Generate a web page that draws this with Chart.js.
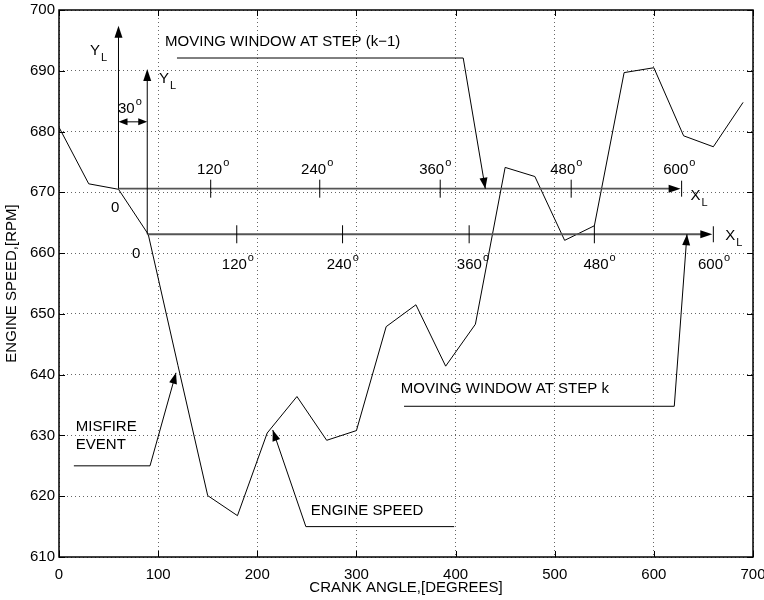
<!DOCTYPE html>
<html>
<head>
<meta charset="utf-8">
<script src="https://cdn.jsdelivr.net/npm/chart.js@4/dist/chart.umd.min.js"></script>
<style>
  html, body { margin: 0; padding: 0; background: #fff; }
  #wrap { width: 764px; height: 600px; }
</style>
</head>
<body>
<div id="wrap"><canvas id="speedChart"></canvas></div>
<script>
// crank angle (deg) and engine speed (rpm)
var crankAngle = [0, 30, 60, 90, 120, 150, 180, 210, 240, 270, 300, 330, 360, 390, 420, 450, 480, 510, 540, 570, 600, 630, 660, 690];
var engineSpeed = [680.7, 671.4, 670.5, 663.1, 641.5, 620.1, 616.8, 630.4, 636.4, 629.2, 630.8, 647.9, 651.5, 641.4, 648.3, 674.1, 672.6, 662.1, 664.5, 689.7, 690.5, 679.3, 677.5, 684.8];
var xTicks = [0, 100, 200, 300, 400, 500, 600, 700];
var yTicks = [610, 620, 630, 640, 650, 660, 670, 680, 690, 700];
var windowLabels = ['120', '240', '360', '480', '600'];

// the two moving windows, in data units
var windows = [
  { origin: [60, 670.6], yTip: 697.4, xEnd: 628, ticks: [153, 263, 384.5, 516.6],
    labelX: [139.3, 244.2, 363.3, 495.5, 609.5], labelY: 673.0,
    zero: [52.5, 666.8], yl: [31.3, 692.6], xl: [637, 668.8] },
  { origin: [89, 663.1], yTip: 690.3, xEnd: 660, ticks: [179.3, 286, 413.7, 540],
    labelX: [164.2, 270, 401.3, 529, 644.5], labelY: 657.4,
    zero: [73.7, 659.2], yl: [100.9, 688], xl: [672, 662.1] }
];

var callouts = [
  { text: ['MOVING WINDOW AT STEP (k\u22121)'], at: [107, 694.7], path: [[119, 692.1], [407.7, 692.1], [430, 670.6]] },
  { text: ['MOVING WINDOW AT STEP k'], at: [344.8, 637.7], path: [[348, 634.8], [620.6, 634.8], [633.4, 663.1]] },
  { text: ['MISFIRE', 'EVENT'], at: [17, 631.4], path: [[15, 625], [91.8, 625], [118, 640.3]] },
  { text: ['ENGINE SPEED'], at: [254, 617.6], path: [[398.6, 615], [249, 615], [215.6, 630.9]] }
];

var FONT = 'Liberation Sans, Arial, Helvetica, sans-serif';

function arrowHead(ctx, x1, y1, x2, y2, len, half) {
  var a = Math.atan2(y2 - y1, x2 - x1);
  ctx.beginPath();
  ctx.moveTo(x2, y2);
  ctx.lineTo(x2 - len * Math.cos(a) + half * Math.sin(a), y2 - len * Math.sin(a) - half * Math.cos(a));
  ctx.lineTo(x2 - len * Math.cos(a) - half * Math.sin(a), y2 - len * Math.sin(a) + half * Math.cos(a));
  ctx.closePath();
  ctx.fill();
}

function supText(ctx, txt, sup, x, y) {
  ctx.font = '15px ' + FONT;
  ctx.textAlign = 'left';
  ctx.textBaseline = 'alphabetic';
  ctx.fillText(txt, x, y);
  var w = ctx.measureText(txt).width;
  ctx.font = '11px ' + FONT;
  ctx.fillText(sup, x + w + 1, y - 8);
}

function subText(ctx, txt, sub, x, y) {
  ctx.font = '15px ' + FONT;
  ctx.textAlign = 'left';
  ctx.textBaseline = 'alphabetic';
  ctx.fillText(txt, x, y);
  var w = ctx.measureText(txt).width;
  ctx.font = '11px ' + FONT;
  ctx.fillText(sub, x + w + 1, y + 6);
}

var framePlugin = {
  id: 'frame',
  afterDraw: function (chart) {
    var ctx = chart.ctx, a = chart.chartArea;
    var xs = chart.scales.x, ys = chart.scales.y;
    ctx.save();
    ctx.strokeStyle = '#000';
    ctx.lineWidth = 1;
    ctx.beginPath();
    xTicks.forEach(function (v) {
      var p = Math.round(xs.getPixelForValue(v)) + 0.5;
      ctx.moveTo(p, a.bottom); ctx.lineTo(p, a.bottom - 6);
      ctx.moveTo(p, a.top); ctx.lineTo(p, a.top + 6);
    });
    yTicks.forEach(function (v) {
      var p = Math.round(ys.getPixelForValue(v)) + 0.5;
      ctx.moveTo(a.left, p); ctx.lineTo(a.left + 6, p);
      ctx.moveTo(a.right, p); ctx.lineTo(a.right - 6, p);
    });
    ctx.stroke();
    ctx.lineWidth = 1.5;
    ctx.strokeRect(a.left, a.top, a.right - a.left, a.bottom - a.top);
    ctx.restore();
  }
};

var notesPlugin = {
  id: 'notes',
  afterDatasetsDraw: function (chart) {
    var ctx = chart.ctx;
    var xs = chart.scales.x, ys = chart.scales.y;
    function px(v) { return xs.getPixelForValue(v); }
    function py(v) { return ys.getPixelForValue(v); }
    ctx.save();
    ctx.fillStyle = '#000';

    windows.forEach(function (w) {
      var ox = px(w.origin[0]), oy = py(w.origin[1]);
      var ex = px(w.xEnd), ty = py(w.yTip);
      // horizontal axis
      ctx.strokeStyle = '#555';
      ctx.lineWidth = 1.8;
      ctx.beginPath(); ctx.moveTo(ox, oy); ctx.lineTo(ex - 8, oy); ctx.stroke();
      ctx.fillStyle = '#000';
      arrowHead(ctx, ox, oy, ex - 1, oy, 12, 4);
      ctx.strokeStyle = '#000';
      ctx.lineWidth = 1;
      ctx.beginPath(); ctx.moveTo(ex, oy - 8); ctx.lineTo(ex, oy + 8); ctx.stroke();
      // vertical axis
      ctx.beginPath(); ctx.moveTo(ox, oy); ctx.lineTo(ox, ty + 8); ctx.stroke();
      arrowHead(ctx, ox, oy, ox, ty, 12, 4);
      // ticks
      ctx.beginPath();
      w.ticks.forEach(function (t) {
        var tx = px(t);
        ctx.moveTo(tx, oy - 9); ctx.lineTo(tx, oy + 9);
      });
      ctx.stroke();
      w.labelX.forEach(function (lx, i) {
        supText(ctx, windowLabels[i], 'o', px(lx), py(w.labelY));
      });
      ctx.font = '15px ' + FONT;
      ctx.fillText('0', px(w.zero[0]), py(w.zero[1]));
      subText(ctx, 'Y', 'L', px(w.yl[0]), py(w.yl[1]));
      subText(ctx, 'X', 'L', px(w.xl[0]), py(w.xl[1]));
    });

    // 30 degree offset between the windows
    var y30 = py(681.6), xa = px(windows[0].origin[0]), xb = px(windows[1].origin[0]);
    ctx.beginPath(); ctx.moveTo(xa + 6, y30); ctx.lineTo(xb - 6, y30); ctx.stroke();
    arrowHead(ctx, xb, y30, xa, y30, 9, 3.5);
    arrowHead(ctx, xa, y30, xb, y30, 9, 3.5);
    supText(ctx, '30', 'o', px(59.5), py(683.1));

    // callouts with leader lines
    callouts.forEach(function (c) {
      ctx.font = '15px ' + FONT;
      ctx.textAlign = 'left';
      ctx.textBaseline = 'middle';
      c.text.forEach(function (t, i) {
        ctx.fillText(t, px(c.at[0]), py(c.at[1]) + i * 18);
      });
      var pts = c.path.map(function (p) { return [px(p[0]), py(p[1])]; });
      var n = pts.length;
      ctx.strokeStyle = '#000';
      ctx.lineWidth = 1;
      ctx.beginPath();
      ctx.moveTo(pts[0][0], pts[0][1]);
      for (var i = 1; i < n; i++) ctx.lineTo(pts[i][0], pts[i][1]);
      ctx.stroke();
      arrowHead(ctx, pts[n - 2][0], pts[n - 2][1], pts[n - 1][0], pts[n - 1][1], 11, 4);
    });
    ctx.restore();
  }
};

var ctxS = document.getElementById('speedChart').getContext('2d');
var speedChart = new Chart(ctxS, {
  type: 'line',
  data: {
    datasets: [{
      label: 'Engine speed',
      data: crankAngle.map(function (a, i) { return { x: a, y: engineSpeed[i] }; }),
      borderColor: '#000',
      borderWidth: 1,
      pointRadius: 0,
      fill: false,
      tension: 0
    }]
  },
  options: {
    responsive: true,
    maintainAspectRatio: false,
    animation: false,
    layout: { padding: { left: 0, right: 11, top: 10, bottom: 0 } },
    plugins: { legend: { display: false }, tooltip: { enabled: false } },
    scales: {
      x: {
        type: 'linear', min: 0, max: 700,
        afterBuildTicks: function (s) { s.ticks = xTicks.map(function (v) { return { value: v }; }); },
        afterFit: function (s) { s.height = 43; s.paddingLeft = 0; s.paddingRight = 0; },
        grid: { color: '#666', drawTicks: false, lineWidth: 1 },
        border: { display: false, dash: [1, 3] },
        ticks: { color: '#000', padding: 9, maxRotation: 0, font: { family: FONT, size: 15 } },
        title: { display: true, text: 'CRANK ANGLE,[DEGREES]', color: '#000', padding: { top: 0, bottom: 3 }, font: { family: FONT, size: 15 } }
      },
      y: {
        type: 'linear', min: 610, max: 700,
        afterBuildTicks: function (s) { s.ticks = yTicks.map(function (v) { return { value: v }; }); },
        afterFit: function (s) { s.width = 59; s.paddingTop = 0; s.paddingBottom = 0; },
        grid: { color: '#666', drawTicks: false, lineWidth: 1 },
        border: { display: false, dash: [1, 3] },
        ticks: { color: '#000', padding: 4, font: { family: FONT, size: 15 } },
        title: { display: true, text: 'ENGINE SPEED,[RPM]', color: '#000', padding: { top: 3, bottom: 0 }, font: { family: FONT, size: 15 } }
      }
    }
  },
  plugins: [framePlugin, notesPlugin]
});
</script>
</body>
</html>
